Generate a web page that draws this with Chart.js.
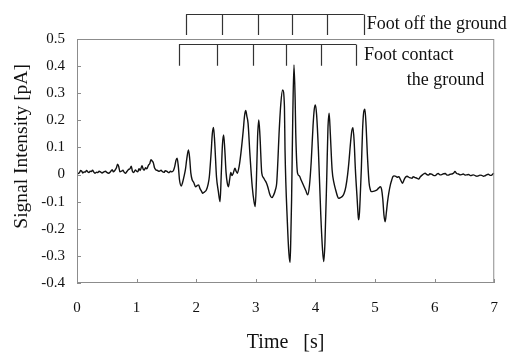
<!DOCTYPE html>
<html><head><meta charset="utf-8">
<script src="https://cdn.jsdelivr.net/npm/chart.js@4.4.1/dist/chart.umd.min.js"></script>
<style>html,body{margin:0;padding:0;background:#fff;}#wrap{width:514px;height:352px;}</style>
</head><body><div id="wrap"><canvas id="c" width="514" height="352"></canvas></div>
<script>
// ---- data ----
const timeS = [
 // quiet start
 0.00,0.02,0.04,0.06,0.08,0.10,0.12,0.14,0.16,0.18,
 0.20,0.22,0.24,0.26,0.28,0.30,0.33,0.35,0.37,0.40,
 0.42,0.45,0.48,0.50,0.53,0.56,0.59,0.61,0.63,0.66,
 0.68,0.70,0.72,0.75,0.77,0.79,0.81,0.84,0.86,0.89,
 0.91,0.93,0.95,0.98,1.00,1.02,1.04,1.06,1.09,1.11,
 1.13,1.15,1.17,1.20,1.22,1.24,1.26,1.28,1.30,1.32,
 1.35,1.38,1.41,1.43,1.46,1.48,1.51,1.54,1.57,1.59,
 1.62,1.64,1.66,1.68,1.70,1.72,
 // walking
 1.75,1.77,1.79,1.82,1.84,1.87,1.89,1.91,1.93,1.96,
 1.99,2.02,2.04,2.06,2.09,2.11,2.14,2.17,2.20,2.22,
 2.25,2.27,2.29,2.31,2.34,2.37,2.40,2.42,2.44,2.46,
 2.48,2.50,2.52,2.54,2.56,2.58,2.60,2.62,2.65,2.67,
 2.69,2.72,2.75,2.79,2.81,2.83,2.85,2.87,2.90,2.94,
 2.97,2.99,3.01,3.03,3.05,3.07,3.10,3.13,3.15,3.18,
 3.20,3.23,3.25,3.27,3.30,3.33,3.35,3.37,3.39,3.42,
 3.45,3.48,3.49,3.53,3.555,3.575,3.59,3.60,3.62,3.64,
 3.66,3.67,3.70,3.73,3.76,3.79,3.81,3.84,3.87,3.90,
 3.93,3.96,3.98,4.00,4.02,4.05,4.09,4.12,4.14,4.16,
 4.19,4.21,4.23,4.25,4.28,4.31,4.34,4.37,4.39,4.42,
 4.45,4.48,4.51,4.54,4.56,4.59,4.61,4.63,4.65,4.67,
 4.70,4.72,4.73,4.75,4.77,4.79,4.81,4.83,4.85,4.87,
 4.90,4.92,4.94,4.97,5.00,5.03,5.06,5.09,5.11,5.13,
 5.15,5.17,5.19,5.21,5.23,5.26,5.28,5.30,5.32,5.35,
 // quiet end
 5.37,5.40,5.43,5.46,5.49,5.51,5.54,5.56,5.59,5.62,
 5.64,5.67,5.70,5.73,5.76,5.79,5.82,5.84,5.87,5.90,
 5.92,5.95,5.98,6.01,6.04,6.06,6.09,6.12,6.15,6.18,
 6.20,6.23,6.26,6.29,6.32,6.34,6.37,6.40,6.43,6.45,
 6.48,6.51,6.54,6.57,6.60,6.62,6.65,6.68,6.71,6.73,
 6.76,6.79,6.82,6.84,6.87,6.90,6.93,6.96,6.98,7.00
];
const signalPA = [
 0.011,0.004,0.006,0.015,0.012,0.006,0.010,0.009,0.015,0.010,
 0.007,0.012,0.011,0.016,0.010,0.005,0.009,0.007,0.012,0.009,
 0.006,0.010,0.012,0.008,0.005,0.010,0.018,0.010,0.014,0.024,
 0.038,0.030,0.010,0.013,0.016,0.009,0.005,0.012,0.018,0.022,
 0.031,0.012,0.007,0.017,0.012,0.010,0.022,0.015,0.033,0.020,
 0.017,0.025,0.021,0.035,0.040,0.055,0.050,0.044,0.025,0.018,
 0.015,0.012,0.016,0.011,0.008,0.014,0.012,0.007,0.012,0.010,
 0.016,0.030,0.052,0.060,0.030,-0.020,
 -0.042,-0.030,-0.012,0.020,0.055,0.091,0.060,0.005,-0.018,-0.030,
 -0.045,-0.040,-0.038,-0.050,-0.062,-0.069,-0.064,-0.057,-0.035,-0.008,
 0.080,0.150,0.174,0.120,-0.008,-0.060,-0.100,0.000,0.110,0.146,
 0.090,0.010,-0.030,-0.045,-0.020,0.008,-0.004,0.004,0.023,0.012,
 0.005,0.030,0.079,0.165,0.215,0.236,0.215,0.189,0.079,-0.045,
 -0.100,-0.118,-0.020,0.140,0.201,0.140,0.005,-0.012,-0.020,-0.032,
 -0.045,-0.070,-0.081,-0.085,-0.075,-0.055,-0.032,0.050,0.152,0.263,
 0.312,0.250,0.090,-0.180,-0.290,-0.324,-0.200,-0.094,0.214,0.404,
 0.275,0.152,0.005,-0.005,-0.020,-0.035,-0.045,-0.060,-0.075,-0.040,
 0.050,0.180,0.240,0.257,0.220,0.090,-0.150,-0.280,-0.321,-0.250,
 -0.010,0.170,0.226,0.150,0.017,-0.030,-0.057,-0.080,-0.088,-0.085,
 -0.081,-0.070,-0.045,0.000,0.042,0.120,0.160,0.173,0.120,0.020,
 -0.090,-0.160,-0.167,-0.090,0.020,0.160,0.230,0.241,0.180,0.080,
 -0.030,-0.055,-0.063,-0.062,-0.060,-0.057,-0.050,-0.045,-0.055,-0.090,
 -0.150,-0.174,-0.140,-0.100,-0.069,-0.035,-0.020,-0.008,-0.005,-0.007,
 -0.010,-0.008,-0.020,-0.032,-0.018,-0.010,-0.006,-0.009,-0.012,-0.014,
 -0.008,-0.011,-0.013,-0.017,-0.008,-0.002,0.003,0.005,0.000,-0.002,
 0.003,0.002,-0.003,-0.004,0.002,0.004,-0.001,0.000,0.003,0.004,
 -0.001,-0.002,0.001,0.002,0.006,0.011,0.004,0.002,-0.001,0.000,
 0.002,-0.002,-0.001,0.000,-0.004,-0.003,-0.001,-0.004,-0.006,-0.005,
 -0.002,-0.003,-0.006,-0.005,-0.001,0.001,-0.003,-0.002,0.003,0.004
];
const xTickValues = [0,1,2,3,4,5,6,7];
const yTickValues = [-0.4,-0.3,-0.2,-0.1,0,0.1,0.2,0.3,0.4,0.5];
const footOffTimes = [1.83,2.43,3.03,3.61,4.20,4.81];
const footContactTimes = [1.71,2.35,2.96,3.50,4.09,4.68];
const footOffLabel = 'Foot off the ground';
const footContactLabel = ['Foot contact','the ground'];
const xTitle = 'Time   [s]';
const yTitle = '      Signal Intensity [pA]';

const serif = '"Liberation Serif","Times New Roman",serif';
const points = timeS.map((t,i)=>({x:t,y:signalPA[i]}));

const framePlugin = {
  id:'framePlugin',
  afterDraw(chart, args, opts){
    const {ctx, chartArea:a, scales:{x,y}} = chart;
    ctx.save();
    ctx.strokeStyle = '#8c8c8c'; ctx.lineWidth = 1;
    ctx.strokeRect(a.left+0.5, a.top+0.5, a.right-a.left-1, a.bottom-a.top-1);
    ctx.beginPath();
    yTickValues.forEach(v=>{const py=Math.round(y.getPixelForValue(v))+0.5; ctx.moveTo(a.left,py); ctx.lineTo(a.left+4,py);});
    xTickValues.forEach(v=>{const px=Math.round(x.getPixelForValue(v))+0.5; ctx.moveTo(px,a.bottom); ctx.lineTo(px,a.bottom-4);});
    ctx.stroke();
    // brackets
    ctx.strokeStyle = '#333'; ctx.lineWidth = 1.2;
    const drawBracket = (times, top, bottom)=>{
      const yt = Math.round(y.getPixelForValue(top))+0.5, yb = y.getPixelForValue(bottom);
      ctx.beginPath();
      ctx.moveTo(x.getPixelForValue(times[0]), yt);
      ctx.lineTo(x.getPixelForValue(times[times.length-1]), yt);
      times.forEach(t=>{const px=Math.round(x.getPixelForValue(t))+0.5; ctx.moveTo(px,yt); ctx.lineTo(px,yb);});
      ctx.stroke();
    };
    drawBracket(footOffTimes, opts.offTop, opts.offBottom);
    drawBracket(footContactTimes, opts.contactTop, opts.contactBottom);
    ctx.fillStyle = '#111';
    ctx.font = '18px ' + serif;
    ctx.textBaseline = 'middle';
    ctx.textAlign = 'left';
    const offEnd = x.getPixelForValue(footOffTimes[footOffTimes.length-1]);
    ctx.fillText(footOffLabel, offEnd+3, y.getPixelForValue(opts.offTop)+10);
    const cEnd = x.getPixelForValue(footContactTimes[footContactTimes.length-1]);
    const cy = y.getPixelForValue(opts.contactTop)+11;
    ctx.fillText(footContactLabel[0], cEnd+8, cy);
    ctx.textAlign = 'right';
    ctx.fillText(footContactLabel[1], a.right-10, cy+25);
    ctx.restore();
  }
};

new Chart(document.getElementById('c'), {
  type:'line',
  data:{datasets:[{data:points, borderColor:'#111', borderWidth:1.4, pointRadius:0, cubicInterpolationMode:'monotone', fill:false}]},
  options:{
    responsive:false, animation:false, devicePixelRatio:1,
    layout:{padding:{top:39, right:18, left:10, bottom:0}},
    plugins:{legend:{display:false}, tooltip:{enabled:false},
      framePlugin:{offTop:0.593, offBottom:0.515, contactTop:0.482, contactBottom:0.401}},
    scales:{
      x:{type:'linear', min:0, max:7,
        afterBuildTicks(s){ s.ticks = xTickValues.map(v=>({value:v})); },
        afterFit(s){ s.height = 69; },
        grid:{display:false, drawTicks:false}, border:{display:false},
        ticks:{padding:16, color:'#111', font:{family:serif, size:15}, maxRotation:0, callback:v=>String(v)},
        title:{display:true, text:xTitle, color:'#111', font:{family:serif, size:20}, padding:{top:0,bottom:-3}}
      },
      y:{type:'linear', min:-0.4, max:0.5,
        afterBuildTicks(s){ s.ticks = yTickValues.map(v=>({value:v})); },
        afterFit(s){ s.width = 67; },
        grid:{display:false, drawTicks:false}, border:{display:false},
        ticks:{padding:12, color:'#111', font:{family:serif, size:15}, callback:v=>{const r=Math.round(v*10)/10; return r===0?'0':String(r);}},
        title:{display:true, text:yTitle, color:'#111', font:{family:serif, size:19.5}, padding:{top:0,bottom:0}}
      }
    }
  },
  plugins:[framePlugin]
});
</script></body></html>
